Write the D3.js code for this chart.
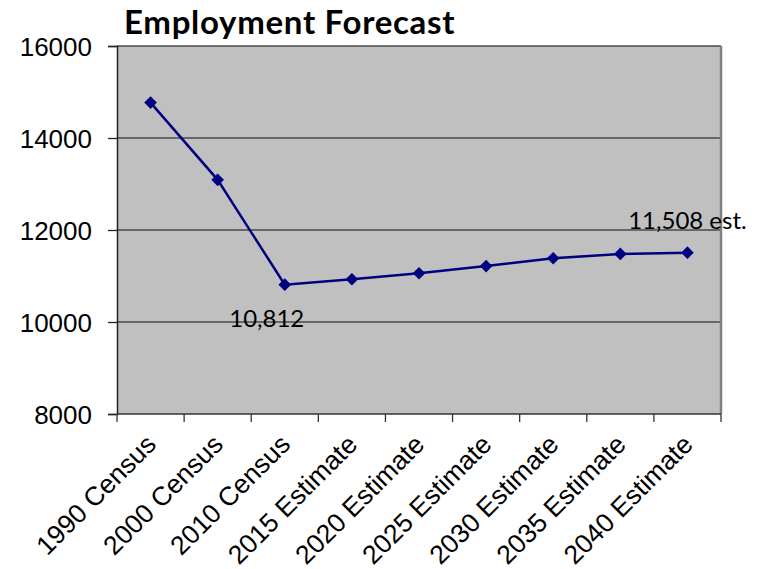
<!DOCTYPE html>
<html>
<head>
<meta charset="utf-8">
<script src="https://cdn.jsdelivr.net/npm/d3@7"></script>
<style>
  html, body { margin: 0; padding: 0; background: #fff; }
  svg { display: block; }
</style>
</head>
<body>
<svg id="chart" width="760" height="569"></svg>
<script>
// Employment by census year and forecast period
const categories = [
  "1990 Census", "2000 Census", "2010 Census",
  "2015 Estimate", "2020 Estimate", "2025 Estimate",
  "2030 Estimate", "2035 Estimate", "2040 Estimate"
];
const employment = [14770, 13090, 10812, 10930, 11060, 11215, 11385, 11480, 11508];
const yTicks = [8000, 10000, 12000, 14000, 16000];
const chartTitle = "Employment Forecast";
const pointLabels = [
  { index: 2, text: "10,812" },
  { index: 8, text: "11,508 est." }
];

const svg = d3.select("#chart");
const plot = { left: 117, right: 721, top: 46, bottom: 414 };

const x = d3.scaleBand().domain(categories).range([plot.left, plot.right]).padding(0);
const y = d3.scaleLinear().domain([8000, 16000]).range([plot.bottom, plot.top]);

// plot background
svg.append("rect")
  .attr("x", plot.left).attr("y", plot.top)
  .attr("width", plot.right - plot.left).attr("height", plot.bottom - plot.top)
  .attr("fill", "#c0c0c0");

// horizontal gridlines
svg.append("g")
  .selectAll("line")
  .data(yTicks.slice(1))
  .join("line")
  .attr("x1", plot.left).attr("x2", plot.right)
  .attr("y1", d => y(d)).attr("y2", d => y(d))
  .attr("stroke", "#4a4a4a").attr("stroke-width", 1.5);

// right border of the plot area
svg.append("line")
  .attr("x1", plot.right).attr("x2", plot.right)
  .attr("y1", plot.top).attr("y2", plot.bottom)
  .attr("stroke", "#808080").attr("stroke-width", 2.5);

// y axis
const yAxis = svg.append("g")
  .attr("transform", `translate(${plot.left},0)`)
  .call(d3.axisLeft(y).tickValues(yTicks).tickSize(9).tickPadding(16).tickFormat(d3.format("d")));
yAxis.select(".domain").attr("stroke", "#222").attr("stroke-width", 1.5);
yAxis.selectAll(".tick line").attr("stroke", "#222").attr("stroke-width", 1.3);
yAxis.selectAll(".tick text")
  .attr("font-family", "'Liberation Sans', Arial, sans-serif")
  .attr("font-size", 26).attr("fill", "#000")
  .attr("dy", "0.36em");

// x axis: ticks at category boundaries
const bounds = categories.map(c => x(c)).concat([x(categories[categories.length - 1]) + x.bandwidth()]);
const xAxis = svg.append("g");
xAxis.append("line")
  .attr("x1", plot.left).attr("x2", plot.right)
  .attr("y1", plot.bottom).attr("y2", plot.bottom)
  .attr("stroke", "#333").attr("stroke-width", 1.5);
xAxis.selectAll("line.tk")
  .data(bounds)
  .join("line").attr("class", "tk")
  .attr("x1", d => d).attr("x2", d => d)
  .attr("y1", plot.bottom).attr("y2", plot.bottom + 8)
  .attr("stroke", "#333").attr("stroke-width", 1.3);
xAxis.selectAll("text")
  .data(categories)
  .join("text")
  .attr("transform", d => `translate(${x(d) + x.bandwidth() / 2 + 7},446) rotate(-45)`)
  .attr("text-anchor", "end")
  .attr("font-family", "'Liberation Sans', Arial, sans-serif")
  .attr("font-size", 26.5)
  .attr("fill", "#000")
  .text(d => d);

// line and markers
const cx = (d, i) => x(categories[i]) + x.bandwidth() / 2;
const line = d3.line().x(cx).y(d => y(d));
svg.append("path")
  .datum(employment)
  .attr("d", line)
  .attr("fill", "none")
  .attr("stroke", "#000080")
  .attr("stroke-width", 2.5);

svg.append("g")
  .selectAll("path")
  .data(employment)
  .join("path")
  .attr("d", d3.symbol(d3.symbolSquare, 80))
  .attr("transform", (d, i) => `translate(${cx(d, i)},${y(d)}) rotate(45)`)
  .attr("fill", "#000080");

// data labels
const labelOffsets = { 2: [-18, 42], 8: [0, -24] };
svg.append("g")
  .selectAll("text")
  .data(pointLabels)
  .join("text")
  .attr("x", d => cx(null, d.index) + labelOffsets[d.index][0])
  .attr("y", d => y(employment[d.index]) + labelOffsets[d.index][1])
  .attr("text-anchor", "middle")
  .attr("font-family", "Lato, 'Open Sans', sans-serif")
  .attr("font-size", 24)
  .attr("fill", "#000")
  .text(d => d.text);

// title
svg.append("text")
  .attr("x", 124).attr("y", 34)
  .attr("font-family", "Lato, 'Open Sans', sans-serif")
  .attr("font-weight", "bold")
  .attr("font-size", 33)
  .attr("letter-spacing", 0.7)
  .attr("fill", "#000")
  .text(chartTitle);
</script>
</body>
</html>
